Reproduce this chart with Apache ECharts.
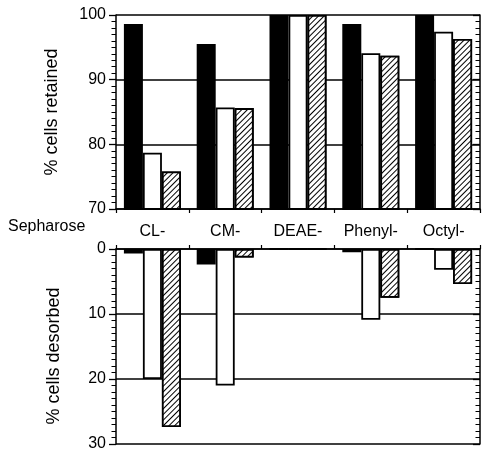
<!DOCTYPE html>
<html>
<head>
<meta charset="utf-8">
<script src="https://cdn.jsdelivr.net/npm/echarts@6/dist/echarts.min.js"></script>
<style>
  html, body { margin: 0; padding: 0; background: #fff; }
  #chart { width: 483px; height: 452px; }
</style>
</head>
<body>
<div id="chart"></div>
<script>
// Column matrices
const categories = ['CL-', 'CM-', 'DEAE-', 'Phenyl-', 'Octyl-'];

// % cells retained (upper panel)
const retainedBlack = [98.6, 95.5, 100, 98.6, 100];
const retainedWhite = [78.7, 85.7, 100, 94.1, 97.4];
const retainedHatch = [75.8, 85.6, 100, 93.7, 96.3];

// % cells desorbed (lower panel)
const desorbedBlack = [0.7, 2.4, 0, 0.5, 0];
const desorbedWhite = [20.0, 21.0, 0, 10.9, 3.2];
const desorbedHatch = [27.4, 1.3, 0, 7.5, 5.4];

// [min, max, major step]
const retainedTicks = [70, 100, 10];
const desorbedTicks = [0, 30, 10];

const FONT = 'Liberation Sans, Arial, Helvetica, sans-serif';
const chart = echarts.init(document.getElementById('chart'), null, { renderer: 'canvas' });

const blackStyle = { color: '#000', borderColor: '#000', borderWidth: 1.8 };
const whiteStyle = { color: '#fff', borderColor: '#000', borderWidth: 1.8 };
const hatchStyle = {
  color: '#fff', borderColor: '#000', borderWidth: 1.8,
  decal: {
    symbol: 'rect', symbolSize: 1, color: '#000', backgroundColor: '#fff',
    dashArrayX: [1, 0], dashArrayY: [1, 2.2], rotation: -Math.PI / 4
  }
};

function valueAxis(grid, range, side, inverse) {
  return {
    type: 'value', gridIndex: grid, position: side, inverse: inverse,
    min: range[0], max: range[1], interval: range[2],
    axisLine: { show: true, lineStyle: { color: '#000', width: 1.5 } },
    axisTick: { show: true, inside: side === 'right', length: 7, lineStyle: { color: '#000', width: 1.3 } },
    minorTick: { show: true, splitNumber: 10, length: 4.5, lineStyle: { color: '#000', width: 1 } },
    axisLabel: {
      show: side === 'left', margin: 10, color: '#000',
      fontFamily: FONT, fontSize: 16
    },
    splitLine: { show: side === 'left', lineStyle: { color: '#000', width: 1.5 } }
  };
}

function catAxis(grid, side, showLabel) {
  return {
    type: 'category', gridIndex: grid, position: side, data: categories,
    axisLine: { show: true, onZero: false, lineStyle: { color: '#000', width: 1.5 } },
    axisTick: { show: true, length: 4, lineStyle: { color: '#000', width: 1.2 } },
    axisLabel: {
      show: showLabel, margin: 15, color: '#000',
      fontFamily: FONT, fontSize: 16
    },
    splitLine: { show: false }
  };
}

function bars(name, data, style, axisIdx) {
  return {
    type: 'bar', name: name, data: data,
    xAxisIndex: axisIdx, yAxisIndex: axisIdx * 2,
    barWidth: 19, barGap: '0%',
    itemStyle: style, clip: true,
    emphasis: { disabled: true }
  };
}

chart.setOption({
  animation: false,
  backgroundColor: '#fff',
  grid: [
    { left: 116, right: 3, top: 15, height: 194 },
    { left: 116, right: 3, top: 249, height: 196 }
  ],
  xAxis: [catAxis(0, 'bottom', true), catAxis(1, 'top', false)],
  yAxis: [
    valueAxis(0, retainedTicks, 'left', false),
    valueAxis(0, retainedTicks, 'right', false),
    valueAxis(1, desorbedTicks, 'left', true),
    valueAxis(1, desorbedTicks, 'right', true)
  ],
  series: [
    bars('black', retainedBlack, blackStyle, 0),
    bars('white', retainedWhite, whiteStyle, 0),
    bars('hatched', retainedHatch, hatchStyle, 0),
    bars('black', desorbedBlack, blackStyle, 1),
    bars('white', desorbedWhite, whiteStyle, 1),
    bars('hatched', desorbedHatch, hatchStyle, 1)
  ],
  graphic: [
    {
      type: 'text', left: 8, top: 219,
      style: { text: 'Sepharose', fontFamily: FONT, fontSize: 16, fill: '#000' }
    },
    {
      type: 'text', x: 52, y: 112, rotation: Math.PI / 2,
      style: { text: '% cells retained', fontFamily: FONT, fontSize: 18, fill: '#000',
               align: 'center', verticalAlign: 'middle' }
    },
    {
      type: 'text', x: 54, y: 356, rotation: Math.PI / 2,
      style: { text: '% cells desorbed', fontFamily: FONT, fontSize: 18, fill: '#000',
               align: 'center', verticalAlign: 'middle' }
    }
  ]
});
</script>
</body>
</html>
